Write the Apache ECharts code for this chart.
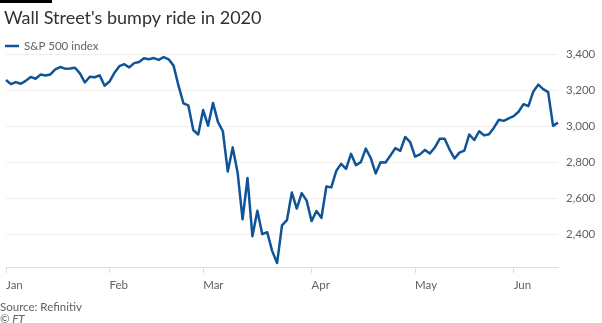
<!DOCTYPE html>
<html>
<head>
<meta charset="utf-8">
<script src="https://cdn.jsdelivr.net/npm/echarts@6/dist/echarts.min.js"></script>
<style>
  html, body { margin: 0; padding: 0; background: #ffffff; }
  #chart { width: 602px; height: 323px; }
</style>
</head>
<body>
<div id="chart"></div>
<script>
// S&P 500 daily closes, 2020 trading days
const janDays = ['01-02','01-03','01-06','01-07','01-08','01-09','01-10','01-13','01-14','01-15','01-16','01-17','01-21','01-22','01-23','01-24','01-27','01-28','01-29','01-30','01-31'];
const janValues = [3258,3235,3246,3237,3253,3275,3265,3288,3283,3289,3317,3330,3321,3322,3326,3295,3244,3276,3273,3284,3226];

const febDays = ['02-03','02-04','02-05','02-06','02-07','02-10','02-11','02-12','02-13','02-14','02-18','02-19','02-20','02-21','02-24','02-25','02-26','02-27','02-28'];
const febValues = [3249,3298,3335,3346,3328,3352,3358,3379,3374,3380,3370,3386,3373,3338,3226,3128,3116,2979,2954];

const marDays = ['03-02','03-03','03-04','03-05','03-06','03-09','03-10','03-11','03-12','03-13','03-16','03-17','03-18','03-19','03-20','03-23','03-24','03-25','03-26','03-27','03-30','03-31'];
const marValues = [3090,3003,3130,3024,2972,2747,2882,2741,2481,2711,2386,2529,2398,2409,2305,2237,2447,2476,2630,2541,2627,2585];

const aprDays = ['04-01','04-02','04-03','04-06','04-07','04-08','04-09','04-13','04-14','04-15','04-16','04-17','04-20','04-21','04-22','04-23','04-24','04-27','04-28','04-29','04-30'];
const aprValues = [2471,2527,2489,2664,2659,2750,2790,2762,2846,2783,2800,2875,2823,2737,2799,2798,2837,2878,2863,2940,2912];

const mayDays = ['05-01','05-04','05-05','05-06','05-07','05-08','05-11','05-12','05-13','05-14','05-15','05-18','05-19','05-20','05-21','05-22','05-26','05-27','05-28','05-29'];
const mayValues = [2831,2843,2868,2848,2881,2930,2930,2870,2820,2853,2864,2954,2923,2972,2949,2955,2992,3036,3030,3044];

const junDays = ['06-01','06-02','06-03','06-04','06-05','06-08','06-09','06-10','06-11','06-12'];
const junValues = [3056,3081,3123,3112,3194,3232,3207,3190,3002,3020];

const monthNames = ['Jan','Feb','Mar','Apr','May','Jun'];
const yTicks = [2400, 2600, 2800, 3000, 3200, 3400];

const seriesName = 'S&P 500 index';
const titleText = "Wall Street's bumpy ride in 2020";
const sourceText = 'Source: Refinitiv';
const creditText = '\u00A9 FT';

const monthDays = [janDays, febDays, marDays, aprDays, mayDays, junDays];
const monthValues = [janValues, febValues, marValues, aprValues, mayValues, junValues];

const dates = [].concat(...monthDays);
const values = [].concat(...monthValues);

// index of the first trading day in each month
const monthStart = [];
let acc = 0;
monthDays.forEach(d => { monthStart.push(acc); acc += d.length; });
const isMonthStart = idx => monthStart.indexOf(idx) !== -1;

const FONT = 'Lato, "Noto Sans", sans-serif';
const GREY = '#66605c';
const AXIS = '#e3ddd6';
const GRIDLINE = '#f1ede9';
const BLUE = '#0f5499';
const SMALL = 11.5;

const chart = echarts.init(document.getElementById('chart'), null, { renderer: 'canvas' });

chart.setOption({
  animation: false,
  backgroundColor: '#ffffff',
  textStyle: { fontFamily: FONT },
  title: {
    text: titleText,
    left: -1,
    top: 4,
    textStyle: { fontFamily: FONT, fontSize: 18, fontWeight: 'normal', color: '#33302e' }
  },
  legend: {
    left: 0,
    top: 35,
    icon: 'rect',
    itemWidth: 14,
    itemHeight: 2.5,
    itemGap: 10,
    textStyle: { fontFamily: FONT, fontSize: SMALL, color: GREY },
    data: [seriesName]
  },
  graphic: [
    { type: 'rect', left: 0, top: 0, shape: { width: 52, height: 3 }, style: { fill: '#000000' } },
    { type: 'text', left: 0, top: 301, style: { text: sourceText, font: SMALL + 'px ' + FONT, fill: GREY } },
    { type: 'text', left: 0, top: 313, style: { text: creditText, font: 'italic ' + SMALL + 'px ' + FONT, fill: GREY } }
  ],
  grid: { left: 6, right: 44, top: 54.5, bottom: 56, containLabel: false },
  xAxis: {
    type: 'category',
    boundaryGap: false,
    data: dates,
    axisLine: { show: true, lineStyle: { color: AXIS, width: 1 } },
    axisTick: {
      show: true,
      length: 6,
      interval: (idx) => isMonthStart(idx),
      lineStyle: { color: AXIS }
    },
    axisLabel: {
      interval: (idx) => isMonthStart(idx),
      formatter: (val, idx) => monthNames[monthStart.indexOf(idx)] || '',
      align: 'left',
      margin: 12,
      fontFamily: FONT,
      fontSize: SMALL,
      color: GREY
    },
    splitLine: { show: false }
  },
  yAxis: {
    type: 'value',
    position: 'right',
    min: 2215,
    max: 3400,
    axisLine: { show: false },
    axisTick: { show: false, customValues: yTicks },
    axisLabel: {
      customValues: yTicks,
      margin: 8,
      fontFamily: FONT,
      fontSize: SMALL,
      color: GREY,
      formatter: v => v.toLocaleString('en-US')
    },
    splitLine: { show: true, lineStyle: { color: GRIDLINE, width: 1 } }
  },
  series: [{
    name: seriesName,
    type: 'line',
    data: values,
    showSymbol: false,
    smooth: false,
    lineStyle: { color: BLUE, width: 2.5, join: 'round' },
    itemStyle: { color: BLUE }
  }]
});
</script>
</body>
</html>
